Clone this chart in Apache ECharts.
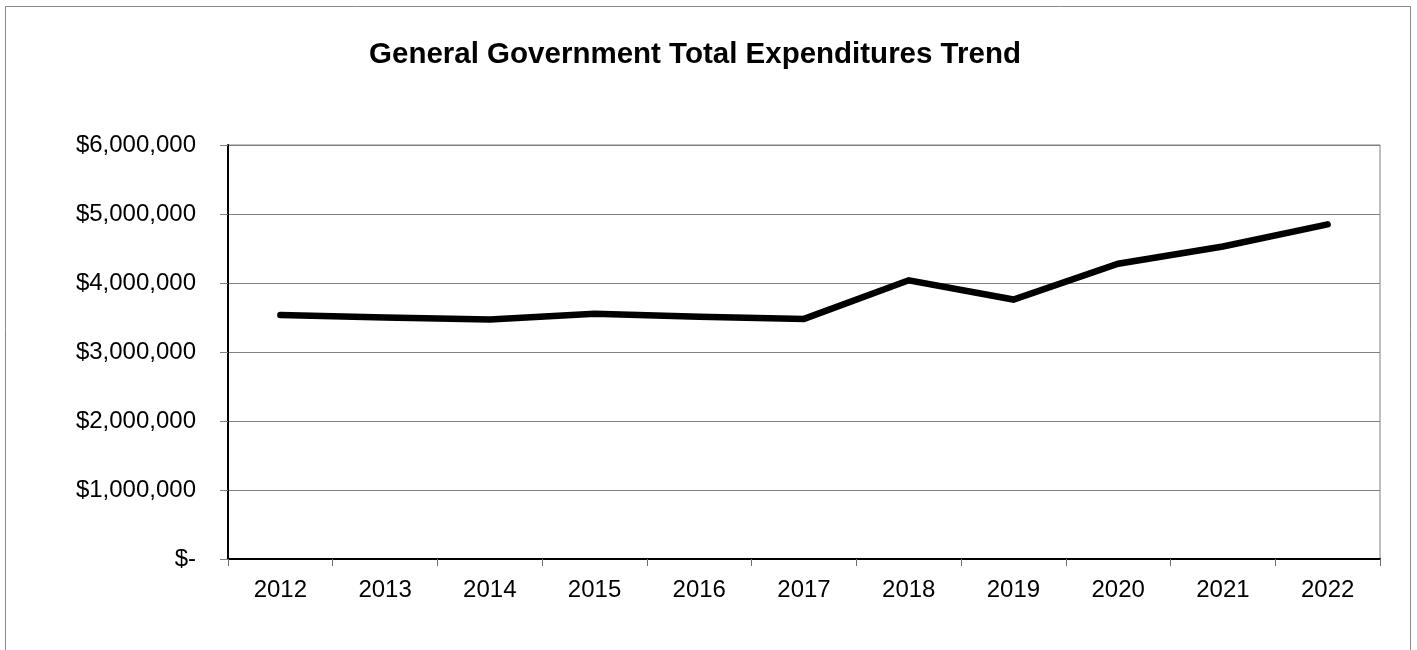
<!DOCTYPE html>
<html>
<head>
<meta charset="utf-8">
<title>General Government Total Expenditures Trend</title>
<script src="https://cdn.jsdelivr.net/npm/echarts@6/dist/echarts.min.js"></script>
<style>
  html, body { margin: 0; padding: 0; background: #ffffff; }
  #chart { width: 1417px; height: 650px; }
</style>
</head>
<body>
<div id="chart"></div>
<script>
// Fiscal years on the category axis
const years = ['2012', '2013', '2014', '2015', '2016', '2017', '2018', '2019', '2020', '2021', '2022'];
// Total general government expenditures, dollars
const expenditures = [3535000, 3500000, 3470000, 3555000, 3510000, 3480000, 4040000, 3760000, 4280000, 4530000, 4850000];
// Value axis range and step
const yMin = 0;
const yMax = 6000000;
const yStep = 1000000;

const font = '"Liberation Sans", Arial, sans-serif';

function money(v) {
  if (v === 0) return '$-';
  return '$' + v.toLocaleString('en-US');
}

const chart = echarts.init(document.getElementById('chart'), null, { renderer: 'canvas' });

chart.setOption({
  backgroundColor: '#ffffff',
  animation: false,
  title: {
    text: 'General Government Total Expenditures Trend',
    left: 690,
    textAlign: 'center',
    top: 35,
    textStyle: { fontFamily: font, fontSize: 29.5, fontWeight: 'bold', color: '#000000' }
  },
  graphic: [{
    type: 'rect',
    shape: { x: 5.5, y: 6.5, width: 1405, height: 700 },
    style: { fill: 'none', stroke: '#8a8a8a', lineWidth: 1 },
    silent: true,
    z: -1
  }],
  grid: {
    left: 228,
    right: 37,
    top: 145,
    bottom: 91,
    show: true,
    borderColor: '#808080',
    borderWidth: 1,
    containLabel: false
  },
  xAxis: {
    type: 'category',
    data: years,
    boundaryGap: true,
    axisLine: { show: true, lineStyle: { color: '#000000', width: 2 } },
    axisTick: { show: true, length: 7, alignWithLabel: false, lineStyle: { color: '#707070', width: 1 } },
    axisLabel: { margin: 19, fontFamily: font, fontSize: 24, color: '#000000' },
    splitLine: { show: false }
  },
  yAxis: {
    type: 'value',
    min: yMin,
    max: yMax,
    interval: yStep,
    axisLine: { show: true, lineStyle: { color: '#000000', width: 2 } },
    axisTick: { show: true, length: 8, lineStyle: { color: '#808080', width: 1 } },
    axisLabel: { margin: 32, fontFamily: font, fontSize: 24, color: '#000000', formatter: money },
    splitLine: { show: true, lineStyle: { color: '#808080', width: 1 } }
  },
  series: [{
    type: 'line',
    data: expenditures,
    symbol: 'none',
    lineStyle: { color: '#000000', width: 6.5, cap: 'round', join: 'miter' },
    z: 5
  }]
});
</script>
</body>
</html>
